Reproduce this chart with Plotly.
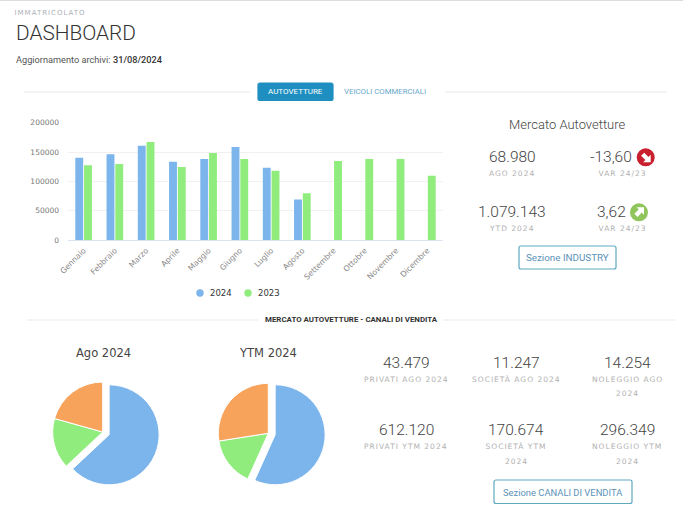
import plotly.graph_objects as go

W, H = 683, 512

# Monthly registrations
months = ["Gennaio", "Febbraio", "Marzo", "Aprile", "Maggio", "Giugno", "Luglio",
          "Agosto", "Settembre", "Ottobre", "Novembre", "Dicembre"]
reg_2024 = [140300, 146000, 160800, 133500, 138000, 158500, 123300, 68980,
            None, None, None, None]
reg_2023 = [127300, 129500, 167000, 124400, 148300, 138000, 118200, 79800,
            134700, 138000, 138000, 109700]

# Sales channels
channels = ["Privati", "Società", "Noleggio"]
channels_ago = [43479, 11247, 14254]
channels_ytm = [612120, 170674, 296349]

BLUE, GREEN, ORANGE = "#7cb5ec", "#90ed7d", "#f7a35c"
UI = "Roboto"
CHART = "DejaVu Sans"
CAPTION_SIZE = 7.5
CAPTION_COLOR = "#b0b0b0"


def fx(px):
    return px / W


def fy(px):
    return 1 - px / H


def pie_domain(cx, cy, r, pull):
    half = r * (1 + pull)
    return dict(x=[fx(cx - half), fx(cx + half)], y=[fy(cy + half), fy(cy - half)])


annotations = []


def label(x, y, text, size=8, color="#999999", family=UI, weight=None, anchor="center"):
    font = dict(size=size, color=color, family=family)
    if weight:
        font["weight"] = weight
    annotations.append(dict(
        x=fx(x), y=fy(y), xref="paper", yref="paper", text=text, showarrow=False,
        xanchor=anchor, yanchor="middle", font=font, borderpad=0,
    ))


def caption(x, y, text):
    label(x, y, text, CAPTION_SIZE, CAPTION_COLOR, CHART)


shapes = []


def rule(x0, x1, y, color="#e9e9e9"):
    shapes.append(dict(type="line", xref="paper", yref="paper", x0=fx(x0), x1=fx(x1),
                       y0=fy(y), y1=fy(y), line=dict(color=color, width=1)))


def box(x0, y0, x1, y1, fill, edge, r=2):
    path = (f"M {fx(x0 + r)} {fy(y0)} L {fx(x1 - r)} {fy(y0)} "
            f"Q {fx(x1)} {fy(y0)} {fx(x1)} {fy(y0 + r)} L {fx(x1)} {fy(y1 - r)} "
            f"Q {fx(x1)} {fy(y1)} {fx(x1 - r)} {fy(y1)} L {fx(x0 + r)} {fy(y1)} "
            f"Q {fx(x0)} {fy(y1)} {fx(x0)} {fy(y1 - r)} L {fx(x0)} {fy(y0 + r)} "
            f"Q {fx(x0)} {fy(y0)} {fx(x0 + r)} {fy(y0)} Z")
    shapes.append(dict(type="path", xref="paper", yref="paper", path=path,
                       fillcolor=fill, line=dict(color=edge, width=1.2)))


def dot(cx, cy, r, color):
    shapes.append(dict(type="circle", xref="paper", yref="paper",
                       x0=fx(cx - r), x1=fx(cx + r), y0=fy(cy + r), y1=fy(cy - r),
                       fillcolor=color, line=dict(width=0)))


def badge(cx, cy, color, down):
    """Round badge holding a white diagonal arrow."""
    dot(cx, cy, 9, color)
    s = 1 if down else -1
    outline = [(5, 5), (-2.5, 5), (-0.3, 2.8), (-4.6, -1.5), (-1.5, -4.6), (2.8, -0.3), (5, -2.5)]
    pts = [(cx + a, cy + s * b) for a, b in outline]
    path = "M " + " L ".join(f"{fx(a)} {fy(b)}" for a, b in pts) + " Z"
    shapes.append(dict(type="path", xref="paper", yref="paper", path=path,
                       fillcolor="white", line=dict(width=0)))


# Page header
rule(0, 683, 0.5, "#dddddd")
label(50.5, 13, "IMMATRICOLATO", 7, "#aab0b6", CHART)
label(14.5, 32.5, "DASHBOARD", 20.8, "#333333", weight=300, anchor="left")
label(14.5, 59, "Aggiornamento archivi:", 9.2, "#555555", anchor="left")
label(112, 59, "31/08/2024", 9.2, "#333333", weight=500, anchor="left")

# Vehicle type switch
rule(24, 250, 92)
rule(445, 667, 92)
box(258, 83, 333, 100.5, "#1e8fc0", "#1e8fc0")
label(295.5, 91, "AUTOVETTURE", 8, "#ffffff")
label(384.5, 91, "VEICOLI COMMERCIALI", 7.8, "#6aa9cc")

# Market summary column
label(567, 124, "Mercato Autovetture", 13, "#444444", weight=300)
label(512, 157, "68.980", 15.5, "#444444", weight=300)
label(611, 157, "-13,60", 15.5, "#444444", weight=300)
caption(512, 173.5, "AGO 2024")
caption(622, 173.5, "VAR 24/23")
label(512, 212, "1.079.143", 15.5, "#444444", weight=300)
label(611, 212, "3,62", 15.5, "#444444", weight=300)
caption(512, 228.5, "YTD 2024")
caption(622, 228.5, "VAR 24/23")
badge(645.7, 157.3, "#c8202f", True)
badge(639, 212.3, "#8fc55a", False)
box(519, 246, 616, 269, "#ffffff", "#5fa9bf")
label(567.5, 257.5, "Sezione INDUSTRY", 9.8, "#5b93b8")

# Sales channel section
rule(27, 258, 320)
rule(443, 675, 320)
label(351, 319, "MERCATO AUTOVETTURE - CANALI DI VENDITA", 7.9, "#333333", weight=700)
label(103.3, 353, "Ago 2024", 11.5, "#444444", CHART)
label(268, 353, "YTM 2024", 11.5, "#444444", CHART)

label(406, 362.5, "43.479", 15.5, "#444444", weight=300)
label(516, 362.5, "11.247", 15.5, "#444444", weight=300)
label(627, 362.5, "14.254", 15.5, "#444444", weight=300)
caption(406, 379, "PRIVATI AGO 2024")
caption(516, 379, "SOCIETÀ AGO 2024")
caption(627, 379, "NOLEGGIO AGO")
caption(627, 393.5, "2024")

label(406, 430, "612.120", 15.5, "#444444", weight=300)
label(516, 430, "170.674", 15.5, "#444444", weight=300)
label(627, 430, "296.349", 15.5, "#444444", weight=300)
caption(406, 446.5, "PRIVATI YTM 2024")
caption(516, 446.5, "SOCIETÀ YTM")
caption(627, 446.5, "NOLEGGIO YTM")
caption(516, 461, "2024")
caption(627, 461, "2024")
box(494, 480, 632, 503.5, "#ffffff", "#5fa9bf")
label(562.5, 492, "Sezione CANALI DI VENDITA", 9.4, "#5b93b8")

# Year key under the bars
dot(200, 293, 3.7, BLUE)
label(209, 293, "2024", 8.5, "#333333", CHART, anchor="left")
dot(248, 293, 3.7, GREEN)
label(256.5, 293, "2023", 8.5, "#333333", CHART, anchor="left")

fig = go.Figure()

# Grouped monthly bars
fig.add_bar(x=months, y=reg_2024, name="2024", marker=dict(color=BLUE, line=dict(width=0)))
fig.add_bar(x=months, y=reg_2023, name="2023", marker=dict(color=GREEN, line=dict(width=0)))

# Channel split pies, first slice pulled out
PULL = 0.14
for values, cx, cy in ((channels_ago, 102.7, 432), (channels_ytm, 268.3, 433.3)):
    fig.add_pie(labels=channels, values=values, sort=False, direction="clockwise", rotation=0,
                pull=[PULL, 0, 0], textinfo="none",
                marker=dict(colors=[BLUE, GREEN, ORANGE], line=dict(color="#ffffff", width=1)),
                domain=pie_domain(cx, cy, 50, PULL))

fig.update_layout(
    template="none",
    width=W, height=H, autosize=False, showlegend=False,
    margin=dict(l=0, r=0, t=0, b=0, autoexpand=False),
    paper_bgcolor="#ffffff", plot_bgcolor="#ffffff",
    barmode="group", bargap=0.44, bargroupgap=0.1,
    annotations=annotations, shapes=shapes,
    xaxis=dict(domain=[fx(68), fx(443)], anchor="y", type="category", categoryorder="array",
               categoryarray=months, tickangle=-45, ticks="", showgrid=False, automargin=False,
               showline=True, linecolor="#d8e4ef", linewidth=1, ticklabelstandoff=2,
               tickfont=dict(family=CHART, size=7.8, color="#888888")),
    yaxis=dict(domain=[fy(240), fy(122.7)], anchor="x", range=[0, 200000], automargin=False,
               tickvals=[0, 50000, 100000, 150000, 200000], tickformat="d", ticks="",
               showline=False, gridcolor="#f1f1f1", gridwidth=1, zeroline=False,
               ticklabelstandoff=8,
               tickfont=dict(family=CHART, size=7.5, color="#777777")),
)

# The small uppercase captions are tracked out
tracking = """
document.querySelectorAll('.annotation-text').forEach(function (t) {
  var size = parseFloat(t.style.fontSize);
  if (size === 7 || size === 7.5) { t.style.letterSpacing = '1px'; }
});
"""

fig.write_html("out.html", config=dict(displayModeBar=False), post_script=tracking)
